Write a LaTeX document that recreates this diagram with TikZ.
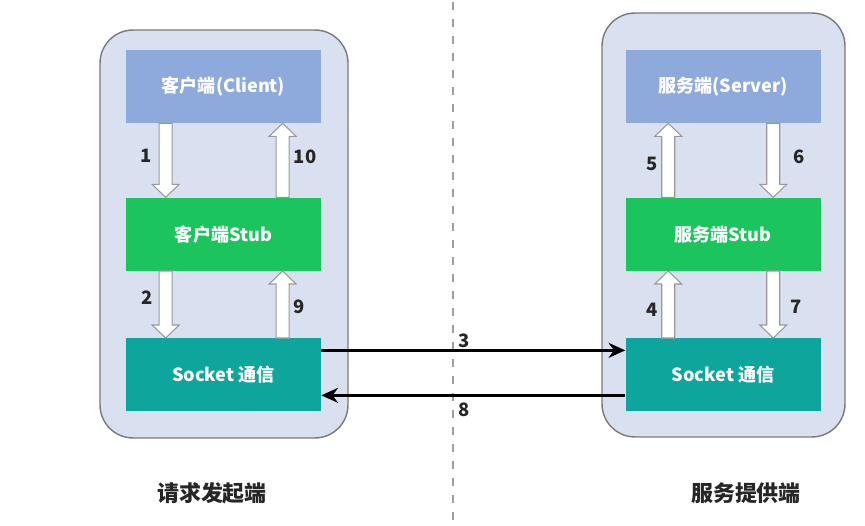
\documentclass[tikz,border=0pt]{standalone}
\usepackage{fontspec}
\newfontfamily\cjk{Noto Sans CJK SC}
\usetikzlibrary{arrows.meta,positioning,calc}

\definecolor{sidefill}{HTML}{D9E0EF}
\definecolor{clientblue}{HTML}{8EA9DB}
\definecolor{stubgreen}{HTML}{1BC45C}
\definecolor{sockteal}{HTML}{0EA59C}

\begin{document}
\begin{tikzpicture}[x=0.02cm,y=-0.02cm,>={Stealth[length=9.5pt,width=8.5pt]},
                    font=\cjk\bfseries]
  \tikzstyle{side}=[draw=gray!95!black,fill=sidefill,rounded corners=0.66cm,line width=0.8pt,inner sep=0pt]
  \tikzstyle{callbox}=[minimum width=3.9cm,minimum height=1.46cm,inner sep=0pt,text=white,
                       font=\cjk\bfseries\fontsize{10.3}{12}\selectfont]
  \tikzstyle{num}=[font=\cjk\bfseries\fontsize{10.5}{12}\selectfont,text=black!85,inner sep=1pt]
  \tikzstyle{sidename}=[font=\cjk\bfseries\fontsize{12.5}{14}\selectfont,text=black!85]
  \tikzstyle{msg}=[->,line width=1.5pt,black]
  \tikzstyle{divider}=[gray!75,line width=1.1pt,dash pattern=on 0.16cm off 0.18cm]
  \tikzstyle{fatdown}=[draw=gray!80,fill=white,line width=0.6pt,to path={
      let \p1=(\tikztostart), \p2=(\tikztotarget) in
      (\x1-0.13cm,\y1) -- (\x1-0.13cm,\y2+0.26cm) -- (\x1-0.27cm,\y2+0.26cm)
      -- (\x1,\y2) -- (\x1+0.27cm,\y2+0.26cm) -- (\x1+0.13cm,\y2+0.26cm)
      -- (\x1+0.13cm,\y1) -- cycle}]
  \tikzstyle{fatup}=[draw=gray!80,fill=white,line width=0.6pt,to path={
      let \p1=(\tikztostart), \p2=(\tikztotarget) in
      (\x1-0.13cm,\y1) -- (\x1-0.13cm,\y2-0.26cm) -- (\x1-0.27cm,\y2-0.26cm)
      -- (\x1,\y2) -- (\x1+0.27cm,\y2-0.26cm) -- (\x1+0.13cm,\y2-0.26cm)
      -- (\x1+0.13cm,\y1) -- cycle}]

  \useasboundingbox (0,0) rectangle (865,526);

  % the two sides
  \node[side,minimum width=4.96cm,minimum height=8.16cm] (caller) at (224,234) {};
  \node[side,minimum width=4.86cm,minimum height=8.48cm] (callee) at (723.5,225) {};

  \node[callbox,fill=clientblue] (cli) at (223.5,86.5) {客户端(Client)};
  \node[callbox,fill=stubgreen,below=1.48cm of cli] (cstub) {客户端Stub};
  \node[callbox,fill=sockteal,below=1.34cm of cstub] (csock) {Socket 通信};
  \node[callbox,fill=clientblue,right=6.08cm of cli] (srv) {服务端(Server)};
  \node[callbox,fill=stubgreen,below=1.48cm of srv] (sstub) {服务端Stub};
  \node[callbox,fill=sockteal,below=1.34cm of sstub] (ssock) {Socket 通信};

  \draw[divider] (453,2) -- (453,526);

  % calls inside each side
  \path ([xshift=0.8cm]cli.south west) edge[fatdown] ([xshift=0.8cm]cstub.north west)
        ([xshift=0.8cm]cstub.south west) edge[fatdown] ([xshift=0.8cm]csock.north west)
        ([xshift=3.14cm]csock.north west) edge[fatup] ([xshift=3.14cm]cstub.south west)
        ([xshift=3.14cm]cstub.north west) edge[fatup] ([xshift=3.14cm]cli.south west)
        ([xshift=0.86cm]ssock.north west) edge[fatup] ([xshift=0.86cm]sstub.south west)
        ([xshift=0.86cm]sstub.north west) edge[fatup] ([xshift=0.86cm]srv.south west)
        ([xshift=2.96cm]srv.south west) edge[fatdown] ([xshift=2.96cm]sstub.north west)
        ([xshift=2.96cm]sstub.south west) edge[fatdown] ([xshift=2.96cm]ssock.north west);

  \node[num] (n1) at (146,156) {1};
  \node[num] (n2) at (147,298) {2};
  \node[num] (n4) at (652,310) {4};
  \node[num] (n5) at (652,164) {5};
  \node[num] (n6) at (799,157) {6};
  \node[num] (n7) at (796,307) {7};
  \node[num] (n9) at (299,307) {9};
  \node[num] (n10) at (305,157) {10};

  % over the network
  \draw[msg] ([yshift=0.49cm]csock.east) -- ([yshift=0.49cm]ssock.west)
        node[num,pos=0.44,anchor=south west] (n3) {3};
  \draw[msg] ([yshift=-0.41cm]ssock.west) -- ([yshift=-0.41cm]csock.east)
        node[num,pos=0.56,anchor=north west,yshift=-0.08cm] (n8) {8};

  \node[sidename] (reqname) at (212,493) {请求发起端};
  \node[sidename] (srvname) at (746,493) {服务提供端};
\end{tikzpicture}
\end{document}
